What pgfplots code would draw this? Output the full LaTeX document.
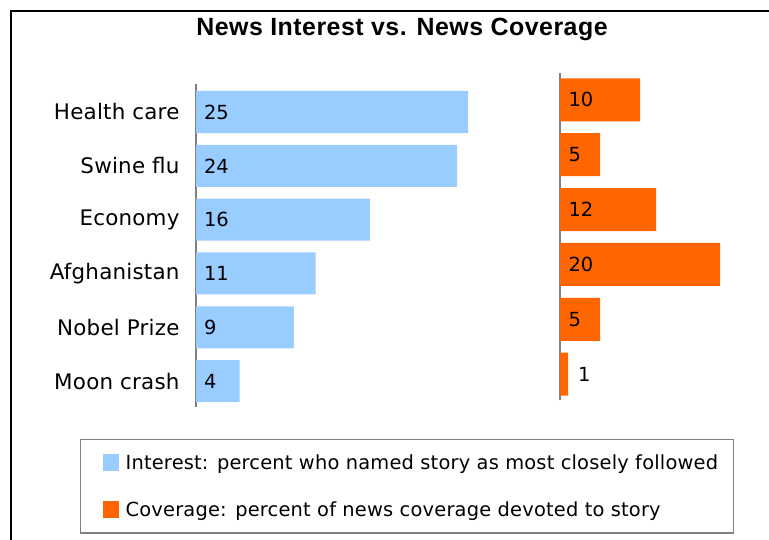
\documentclass[border=0pt]{standalone}
\usepackage{pgfplots}
\pgfplotsset{compat=1.18}
\usepackage{pgfplotstable}
\usepackage{fontspec}
\setmainfont{DejaVu Sans}
\newfontfamily\titlefont{Liberation Sans}[LetterSpace=2]
\newfontfamily\catfont{DejaVu Sans}[LetterSpace=1]
\newfontfamily\legfont{DejaVu Sans}[LetterSpace=1]

\definecolor{interest}{HTML}{99CCFF}
\definecolor{coverage}{HTML}{FF6600}
\definecolor{axisgray}{HTML}{808080}

% pos 0 = bottom row
\pgfplotstableread[col sep=comma]{
pos,story,interest,coverage
0,Moon crash,4,1
1,Nobel Prize,9,5
2,Afghanistan,11,20
3,Economy,16,12
4,Swine flu,24,5
5,Health care,25,10
}\newsdata

\pgfplotsset{
  sqlegend/.style={legend image code/.code={
      \path (0bp,0bp) (30bp,0bp);
      \fill[##1] (9bp,-8.5bp) rectangle (25bp,8.5bp);}},
  newsaxis/.style={
    scale only axis,
    axis x line=none, axis y line*=left,
    axis line style={axisgray, line width=1.2bp, -},
    major tick length=0pt,
    clip=false,
  },
}

\begin{document}
\begin{tikzpicture}
\path[use as bounding box] (0bp,0bp) rectangle (769bp,-540bp);

% outer frame (runs off the right and bottom edge)
\draw[line width=2bp] (11bp,-560bp) -- (11bp,-10.5bp) -- (790bp,-10.5bp);

\node[font=\titlefont\bfseries\fontsize{25}{29}\selectfont] at (402bp,-29bp)
  {News Interest vs. News Coverage};

% interest panel
\begin{axis}[
  newsaxis,
  at={(196bp,-407bp)}, anchor=south west,
  width=326.4bp, height=323bp,
  xmin=0, xmax=30, ymin=-0.48, ymax=5.52,
  ytick={0,...,5},
  yticklabels from table={\newsdata}{story},
  yticklabel style={font=\catfont\fontsize{21.5}{25}\selectfont, xshift=-13bp},
  legend style={
    at={(axis description cs:-0.3554,-0.0991)}, anchor=north west,
    draw=axisgray, line width=1.2bp,
    font=\legfont\fontsize{19.5}{23}\selectfont,
    inner xsep=13bp, inner ysep=13bp, row sep=27bp,
  },
  legend cell align=left,
]
\addplot[xbar, bar width=42bp, bar shift=0pt, fill=interest, draw=none, sqlegend]
  table[x=interest, y=pos]{\newsdata};
\addlegendentry{Interest: percent who named story as most closely followed}
\addplot[draw=none, forget plot, nodes near coords, point meta=explicit symbolic,
  every node near coord/.append style={anchor=west, xshift=4.5bp,
    font=\fontsize{19.5}{23}\selectfont}]
  table[x expr=0, y=pos, meta=interest]{\newsdata};
\addlegendimage{fill=coverage, draw=none, sqlegend}
\addlegendentry{Coverage: percent of news coverage devoted to story}
\end{axis}

% coverage panel
\begin{axis}[
  newsaxis,
  at={(560bp,-400bp)}, anchor=south west,
  width=200bp, height=327bp,
  xmin=0, xmax=25, ymin=-0.47, ymax=5.49,
  ytick=\empty,
]
\addplot[xbar, bar width=43bp, bar shift=0pt, fill=coverage, draw=none]
  table[x=coverage, y=pos]{\newsdata};
\addplot[draw=none, nodes near coords, point meta=explicit symbolic,
  every node near coord/.append style={anchor=west, xshift=5bp,
    font=\fontsize{19.5}{23}\selectfont}]
  table[x expr={\thisrow{coverage}<3 ? \thisrow{coverage}+0.2 : 0}, y=pos, meta=coverage]{\newsdata};
\end{axis}
\end{tikzpicture}
\end{document}
